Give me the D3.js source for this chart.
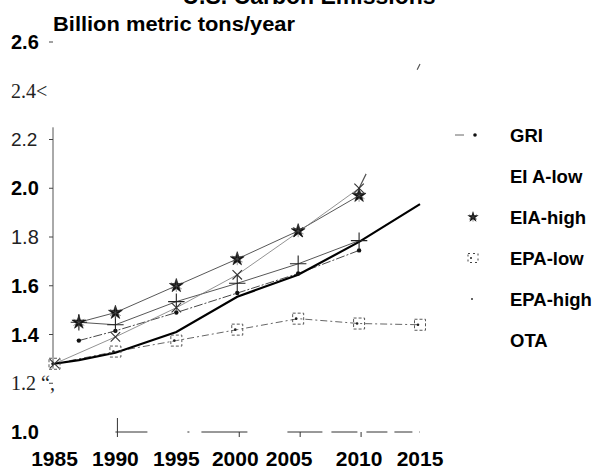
<!DOCTYPE html>
<html>
<head>
<meta charset="utf-8">
<script src="https://cdn.jsdelivr.net/npm/d3@7"></script>
<style>
  body { margin: 0; background: #fff; }
  svg { display: block; }
</style>
</head>
<body>
<div id="chart"></div>
<script>
// chart size
var width = 602;
var height = 469;

// series values
var yearsGRI = [1987, 1990, 1995, 2000, 2005, 2010];
var gri = [1.375, 1.415, 1.49, 1.57, 1.65, 1.745];

var yearsEiaLow = [1985, 1990, 1995, 2000, 2005, 2010, 2015];
var eiaLow = [1.28, 1.39, 1.51, 1.645, 1.82, 2.0, 2.51];

var yearsEiaHigh = [1987, 1990, 1995, 2000, 2005, 2010];
var eiaHigh = [1.45, 1.49, 1.60, 1.71, 1.825, 1.97];

var yearsEpaLow = [1985, 1990, 1995, 2000, 2005, 2010, 2015];
var epaLow = [1.28, 1.33, 1.375, 1.42, 1.465, 1.445, 1.44];

var yearsEpaHigh = [1987, 1990, 1995, 2000, 2005, 2010];
var epaHigh = [1.45, 1.44, 1.535, 1.61, 1.69, 1.785];

var yearsOTA = [1985, 1987, 1990, 1995, 2000, 2005, 2010, 2015];
var ota = [1.28, 1.295, 1.325, 1.41, 1.555, 1.645, 1.78, 1.935];

// axis labels (as printed, scan quirks included)
var yTickValues = [2.6, 2.4, 2.2, 2.0, 1.8, 1.6, 1.4, 1.2, 1.0];
var yTickLabels = ["2.6", "2.4<", "2.2", "2.0", "1.8", "1.6", "1.4", "1.2 \u201c,", "1.0"];
var xTickValues = [1985, 1990, 1995, 2000, 2005, 2010, 2015];
var legendNames = ["GRI", "EI  A-low", "EIA-high", "EPA-low", "EPA-high", "OTA"];

var sans = "'Liberation Sans', Arial, sans-serif";
var serif = "'Liberation Serif', 'Times New Roman', serif";

// label styles for the mixed-up scanned tick labels
var yLabelStyle = {
  "2.6": { f: sans, w: "bold", s: 20 },
  "2.4<": { f: serif, w: "normal", s: 20 },
  "2.2": { f: sans, w: "normal", s: 19 },
  "2.0": { f: sans, w: "bold", s: 20 },
  "1.8": { f: sans, w: "normal", s: 20 },
  "1.6": { f: sans, w: "bold", s: 20 },
  "1.4": { f: sans, w: "bold", s: 20 },
  "1.2 \u201c,": { f: serif, w: "normal", s: 20 },
  "1.0": { f: sans, w: "bold", s: 20 }
};

var x = d3.scaleLinear().domain([1985, 2015]).range([54.5, 420]);
var y = d3.scaleLinear().domain([1.0, 2.6]).range([432, 42]);

var svg = d3.select("#chart").append("svg")
    .attr("width", width)
    .attr("height", height);

function pts(years, vals) {
  return years.map(function (yr, i) { return [yr, vals[i]]; });
}

var line = d3.line()
    .x(function (d) { return x(d[0]); })
    .y(function (d) { return y(d[1]); });

// title, mostly cut off at the top of the scan
svg.append("text")
    .attr("x", 309)
    .attr("y", 4)
    .attr("text-anchor", "middle")
    .attr("font-family", sans)
    .attr("font-weight", "bold")
    .attr("font-size", "23px")
    .attr("fill", "#000")
    .text("U.S. Carbon Emissions");

// unit label
svg.append("text")
    .attr("x", 53)
    .attr("y", 31)
    .attr("font-family", sans)
    .attr("font-weight", "bold")
    .attr("font-size", "19.5px")
    .attr("textLength", 242)
    .attr("lengthAdjust", "spacingAndGlyphs")
    .attr("fill", "#000")
    .text("Billion metric tons/year");

// y axis line (broken in the scan, drawn as one faint rule)
svg.append("line")
    .attr("x1", 53).attr("x2", 53)
    .attr("y1", y(2.25)).attr("y2", y(1.26))
    .attr("stroke", "#555")
    .attr("stroke-width", 1);

svg.selectAll(".ytick")
    .data(yTickValues.filter(function (v) { return v >= 1.2 && v !== 2.4; }))
    .enter().append("line")
    .attr("class", "ytick")
    .attr("x1", 49).attr("x2", 53)
    .attr("y1", function (d) { return y(d); })
    .attr("y2", function (d) { return y(d); })
    .attr("stroke", "#444");

svg.selectAll(".ylab")
    .data(yTickValues)
    .enter().append("text")
    .attr("class", "ylab")
    .attr("x", 11)
    .attr("y", function (d) { return y(d); })
    .attr("dy", "0.36em")
    .text(function (d, i) { return yTickLabels[i]; })
    .attr("font-family", function (d, i) { return yLabelStyle[yTickLabels[i]].f; })
    .attr("font-weight", function (d, i) { return yLabelStyle[yTickLabels[i]].w; })
    .attr("font-size", function (d, i) { return yLabelStyle[yTickLabels[i]].s + "px"; })
    .attr("fill", function (d, i) { return yLabelStyle[yTickLabels[i]].w === "bold" ? "#000" : "#222"; });

// bottom rule, broken into pieces like the scan
svg.append("line")
    .attr("x1", x(1990)).attr("x2", x(2015))
    .attr("y1", y(1.0)).attr("y2", y(1.0))
    .attr("stroke", "#333")
    .attr("stroke-width", 1)
    .attr("stroke-dasharray", "32,40,2,12,46,40,35,9,26,9,21,7,18,7,10");

svg.selectAll(".xtick")
    .data([1990, 2000, 2005, 2010])
    .enter().append("line")
    .attr("class", "xtick")
    .attr("x1", function (d) { return x(d) + 2; })
    .attr("x2", function (d) { return x(d) + 2; })
    .attr("y1", function (d) { return d === 1990 ? y(1.0) - 14 : y(1.0); })
    .attr("y2", y(1.0) + 5)
    .attr("stroke", "#333");

svg.selectAll(".xlab")
    .data(xTickValues)
    .enter().append("text")
    .attr("class", "xlab")
    .attr("x", function (d) { return x(d); })
    .attr("dx", function (d) { return d === 2005 ? -9 : (d === 2000 ? -2 : 0); })
    .attr("y", 466)
    .attr("text-anchor", "middle")
    .attr("font-family", sans)
    .attr("font-weight", "bold")
    .attr("font-size", "21px")
    .attr("fill", "#000")
    .text(function (d) { return d; });

// series lines
var series = [
  { data: pts(yearsEpaLow, epaLow), stroke: "#555", w: 0.9, dash: "7,3,2,3" },
  { data: pts(yearsGRI, gri), stroke: "#333", w: 0.9, dash: "9,2,2,2" },
  { data: pts(yearsEpaHigh, epaHigh), stroke: "#444", w: 0.9, dash: null },
  { data: pts(yearsEiaHigh, eiaHigh), stroke: "#444", w: 0.9, dash: null },
  { data: pts(yearsEiaLow, eiaLow).slice(0, 6), stroke: "#777", w: 0.8, dash: null },
  { data: pts(yearsOTA, ota), stroke: "#000", w: 2.2, dash: null }
];

svg.selectAll(".series")
    .data(series)
    .enter().append("path")
    .attr("class", "series")
    .attr("d", function (d) { return line(d.data); })
    .attr("fill", "none")
    .attr("stroke", function (d) { return d.stroke; })
    .attr("stroke-width", function (d) { return d.w; })
    .attr("stroke-dasharray", function (d) { return d.dash; });

// last EIA-low stretch to 2015 only survives at its ends in the scan
svg.append("path")
    .attr("d", line(pts(yearsEiaLow, eiaLow).slice(5)))
    .attr("fill", "none")
    .attr("stroke", "#555")
    .attr("stroke-width", 1.2)
    .attr("stroke-dasharray", "16,116,7");

// markers
// EPA-low: dashed open squares
svg.selectAll(".sq")
    .data(pts(yearsEpaLow, epaLow))
    .enter().append("rect")
    .attr("class", "sq")
    .attr("x", function (d) { return x(d[0]) - 5.5; })
    .attr("y", function (d) { return y(d[1]) - 5.5; })
    .attr("width", 11)
    .attr("height", 11)
    .attr("fill", "none")
    .attr("stroke", "#444")
    .attr("stroke-width", 0.9)
    .attr("stroke-dasharray", "3,2");

svg.selectAll(".sqdot")
    .data(pts(yearsEpaLow, epaLow))
    .enter().append("circle")
    .attr("class", "sqdot")
    .attr("cx", function (d) { return x(d[0]) - 2; })
    .attr("cy", function (d) { return y(d[1]); })
    .attr("r", 1.3)
    .attr("fill", "#222");

// GRI: filled dots
svg.selectAll(".dot")
    .data(pts(yearsGRI, gri))
    .enter().append("circle")
    .attr("class", "dot")
    .attr("cx", function (d) { return x(d[0]); })
    .attr("cy", function (d) { return y(d[1]); })
    .attr("r", 2.2)
    .attr("fill", "#111");

// EPA-high: plus signs
svg.selectAll(".plus")
    .data(pts(yearsEpaHigh, epaHigh))
    .enter().append("path")
    .attr("class", "plus")
    .attr("transform", function (d) { return "translate(" + x(d[0]) + "," + y(d[1]) + ")"; })
    .attr("d", d3.symbol().type(d3.symbolPlus).size(90))
    .attr("fill", "none")
    .attr("stroke", "#222")
    .attr("stroke-width", 1.1);

// EIA-low: crosses
svg.selectAll(".cross")
    .data(pts(yearsEiaLow, eiaLow).slice(0, 6))
    .enter().append("path")
    .attr("class", "cross")
    .attr("transform", function (d) { return "translate(" + x(d[0]) + "," + y(d[1]) + ")"; })
    .attr("d", d3.symbol().type(d3.symbolX).size(60))
    .attr("fill", "none")
    .attr("stroke", "#333")
    .attr("stroke-width", 1.1);

// EIA-high: stars
svg.selectAll(".star")
    .data(pts(yearsEiaHigh, eiaHigh))
    .enter().append("path")
    .attr("class", "star")
    .attr("transform", function (d) { return "translate(" + x(d[0]) + "," + y(d[1]) + ")"; })
    .attr("d", d3.symbol().type(d3.symbolStar).size(60))
    .attr("fill", "#111")
    .attr("stroke", "#111")
    .attr("stroke-width", 0.6);

svg.selectAll(".ast")
    .data(pts(yearsEiaHigh, eiaHigh))
    .enter().append("path")
    .attr("class", "ast")
    .attr("transform", function (d) { return "translate(" + x(d[0]) + "," + y(d[1]) + ")"; })
    .attr("d", d3.symbol().type(d3.symbolAsterisk).size(110))
    .attr("fill", "none")
    .attr("stroke", "#555")
    .attr("stroke-width", 0.6);

// legend
var legendY = d3.scalePoint().domain(legendNames).range([135, 340]);

svg.selectAll(".legtext")
    .data(legendNames)
    .enter().append("text")
    .attr("class", "legtext")
    .attr("x", 510)
    .attr("y", function (d) { return legendY(d); })
    .attr("dy", "0.36em")
    .attr("font-family", sans)
    .attr("font-weight", "bold")
    .attr("font-size", "18.5px")
    .attr("fill", "#000")
    .text(function (d) { return d; });

var lg = svg.append("g");
lg.append("line")
    .attr("x1", 455).attr("x2", 464)
    .attr("y1", legendY("GRI")).attr("y2", legendY("GRI"))
    .attr("stroke", "#666");
lg.append("circle")
    .attr("cx", 475).attr("cy", legendY("GRI"))
    .attr("r", 1.8).attr("fill", "#111");
lg.append("path")
    .attr("transform", "translate(473," + legendY("EIA-high") + ")")
    .attr("d", d3.symbol().type(d3.symbolStar).size(40))
    .attr("fill", "#111");
lg.append("path")
    .attr("transform", "translate(473," + legendY("EIA-high") + ")")
    .attr("d", d3.symbol().type(d3.symbolAsterisk).size(60))
    .attr("fill", "none")
    .attr("stroke", "#444")
    .attr("stroke-width", 0.6);
lg.append("rect")
    .attr("x", 468).attr("y", legendY("EPA-low") - 4.5)
    .attr("width", 10).attr("height", 9)
    .attr("fill", "none")
    .attr("stroke", "#444")
    .attr("stroke-dasharray", "2,3");
lg.append("circle")
    .attr("cx", 471).attr("cy", legendY("EPA-low"))
    .attr("r", 1).attr("fill", "#222");
lg.append("circle")
    .attr("cx", 472).attr("cy", legendY("EPA-high"))
    .attr("r", 1).attr("fill", "#333");
</script>
</body>
</html>
